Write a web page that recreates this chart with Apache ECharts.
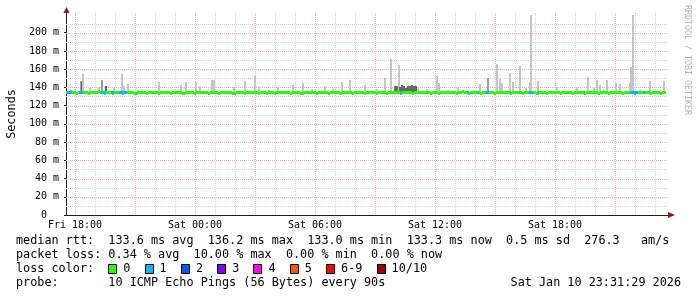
<!DOCTYPE html>
<html><head><meta charset="utf-8">
<script src="https://cdn.jsdelivr.net/npm/echarts@6/dist/echarts.min.js"></script>
<style>html,body{margin:0;padding:0;background:#fff}#c{width:697px;height:297px}</style>
</head><body><div id="c"></div>
<script>
// ---------------- data ----------------
const xMinHour = -0.45, xMaxHour = 29.65, yMaxMs = 221.6;
const xLabelHours = [0, 6, 12, 18, 24];
const xLabelNames = ['Fri 18:00', 'Sat 00:00', 'Sat 06:00', 'Sat 12:00', 'Sat 18:00'];
const majorGridHours = [0, 3, 6, 9, 12, 15, 18, 21, 24, 27];
const minorGridHours = [1, 2, 4, 5, 7, 8, 10, 11, 13, 14, 16, 17, 19, 20, 22, 23, 25, 26, 28, 29];
const yLabelMs = [0, 20, 40, 60, 80, 100, 120, 140, 160, 180, 200];
const majorGridMs = [20, 40, 60, 80, 100, 120, 140, 160, 180, 200];
const minorGridMs = [10, 30, 50, 70, 90, 110, 130, 150, 170, 190, 210];

// median rtt (ms), one sample every 6 minutes starting at the left edge
const medianStartHour = -0.45, medianStepHour = 0.1;
const medianMs = [
 134,134,135,134,134,133.2,134,134,134,134,
 134,133.2,134,134,134,134,135,134,134,133.2,
 134,134,134,133.2,134,134,134,134,133.2,134,
 134,134,134,134,133.2,133.2,134,134,134,134,
 133.2,134,134,134,134,134,133.2,134,134,134,
 134,134,133.2,134,134,134,134,134,133.2,133.2,
 134,134,134,134,133.2,134,134,134,134,134,
 134,133.2,134,134,134,134,133.2,134,134,134,
 134,134,134,133.2,133.2,134,134,134,134,133.2,
 134,134,134,134,134,134,133.2,134,134,134,
 133.2,134,134,134,133.2,134,134,134,134,134,
 134,134,133.2,134,134,134,134,133.2,133.2,134,
 134,134,134,134,134,133.2,134,134,134,134,
 134,133.2,134,134,134,134,134,133.2,134,134,
 134,134,134,133.2,134,134,134,134,134,133.2,
 134,134,134,134,134,133.2,134,134,134,134,
 133.2,134,134,134,134,134,134,133.2,134,134,
 134,134,134,133.2,134,134,134,134,134,134,
 134,134,133.2,134,134,134,133.2,134,134,134,
 134,134,134,134,134,133.2,134,134,135,134,
 134,133.2,134,134,134,134,134,133.2,134,134,
 134,134,134,134,133.2,134,134,134,134,134,
 134,134,133.2,134,134,134,134,134,133.2,134,
 134,134,134,134,134,133.2,134,134,134,134,
 133.2,134,134,134,134,134,134,133.2,134,134,
 134,134,134,133.2,134,134,134,134,134,133.2,
 134,134,134,134,134,134,133.2,134,134,134,
 134,133.2,134,134,134,134,134,134,133.2,134,
 134,134,134,134,133.2,134,134,134,134,134,
 134,134,133.2,134,134,134,134,133.2,134,134
];
// periods with packet loss: [startHour, endHour, lossLevelIndex]
const lossPeriods = [
 [-0.40,-0.15,1],[0.20,0.40,1],[1.30,1.55,1],[1.80,1.95,1],[2.20,2.60,1],
 [16.25,16.35,1],[19.60,19.70,1],[20.15,20.20,1],[20.55,20.70,1],[21.75,21.80,1],
 [22.20,22.25,1],[22.70,22.90,1],[23.15,23.20,1],[25.45,25.50,1],[27.75,28.15,1],[28.40,28.50,1]
];
// smoke (ping spread): [hour, topMs, shade]  shade 0 light, 1 medium, 2 dark
const smokeBaseMs = 134;
const smokeSpikes = [
 [0.28,147,1],[0.33,146,2],[0.40,155,0],[0.75,139,0],[1.18,140,0],[1.37,148,1],[1.53,141,2],
 [1.93,139,0],[2.33,155,0],[2.43,141,0],[2.65,144,0],[3.15,137,0],[4.20,146,0],[5.30,143,0],
 [5.55,146,0],[6.05,146,0],[6.25,141.5,0],[6.85,148,0],[6.95,148,0],[7.93,140,0],[8.50,147,0],
 [9.00,152,0],[9.18,140,0],[9.70,137,0],[10.13,140,0],[10.92,143,0],[11.42,145,0],[11.83,138,0],
 [12.50,141.5,0],[12.88,138,0],[13.35,146,0],[13.75,148,0],[14.50,143,0],[15.08,138,0],
 [15.48,150,0],[15.78,171,0],[16.20,165,0],
 [16.00,141,2],[16.10,142,2],[16.25,140,2],[16.35,143,2],[16.45,141,2],[16.55,139,2],
 [16.65,142,2],[16.75,141,2],[16.85,143,2],[16.95,142,2],[17.05,141,2],
 [17.15,140,0],[17.58,138,0],[18.12,152,0],[18.22,144.5,0],[18.67,137,0],[19.13,140,0],
 [20.25,144,0],[20.65,150,1],[21.12,166,0],[21.25,149,0],[21.37,144.5,0],[21.73,156,0],
 [21.92,146,0],[22.27,163.5,0],[22.57,139,0],[22.75,146,0],[22.82,219.5,0],[23.17,147,0],
 [24.12,140,0],[25.12,140,0],[25.65,151,0],[25.95,139,0],[26.12,148,0],[26.23,143,0],
 [26.45,137,0],[26.62,148,0],[27.03,144.5,0],[27.27,144,0],[27.73,144.5,0],[27.78,162,0],
 [27.90,219.5,0],[28.32,137,0],[28.73,147,0],[29.45,147,0]
];
const lossNames = ['0', '1', '2', '3', '4', '5', '6-9', '10/10'];
const lossColors = ['#26ff00', '#00b8ff', '#0059ff', '#7e00ff', '#ff00ff', '#ff5500', '#ff0000', '#a00000'];
const rttStats = ['133.6 ms avg', '136.2 ms max', '133.0 ms min', '133.3 ms now', '0.5 ms sd', '276.3   am/s'];
const lossStats = ['0.34 % avg', '10.00 % max', '0.00 % min', '0.00 % now'];
const probeText = '10 ICMP Echo Pings (56 Bytes) every 90s';
const dateText = 'Sat Jan 10 23:31:29 2026';
const yTitle = 'Seconds';
const watermark = 'RRDTOOL / TOBI OETIKER';

// ---------------- chart ----------------
const FONT = '"DejaVu Sans Mono", monospace';
const smokeShades = ['#c4c4c4', '#9c9c9c', '#6a6a6a'];
const GRID_MINOR = '#d2d2d2';
const GRID_MAJOR = '#ecb2b2';
const chart = echarts.init(document.getElementById('c'));

function vGrid(hours, color) {
  return {
    type: 'custom', silent: true, clip: false, z: 1,
    data: hours.map(h => [h, 0]),
    renderItem: (p, api) => {
      const cs = p.coordSys;
      const x = Math.round(api.coord([api.value(0), 0])[0]) + 0.5;
      return { type: 'line', shape: { x1: x, y1: cs.y, x2: x, y2: cs.y + cs.height },
               style: { stroke: color, lineWidth: 1, lineDash: [1, 1] } };
    }
  };
}
function hGrid(vals, color) {
  return {
    type: 'custom', silent: true, clip: false, z: 1,
    data: vals.map(v => [xMinHour, v]),
    renderItem: (p, api) => {
      const cs = p.coordSys;
      const y = Math.round(api.coord([xMinHour, api.value(1)])[1]) + 0.5;
      return { type: 'line', shape: { x1: cs.x, y1: y, x2: cs.x + cs.width, y2: y },
               style: { stroke: color, lineWidth: 1, lineDash: [1, 1] } };
    }
  };
}
function medianAt(h) {
  let i = Math.floor((h - medianStartHour) / medianStepHour);
  i = Math.max(0, Math.min(medianMs.length - 1, i));
  return medianMs[i];
}
const medianData = medianMs.map((v, i) => [medianStartHour + i * medianStepHour, v]);

const graphic = [];
graphic.push({ type: 'polygon', shape: { points: [[63.5, 13], [69.5, 13], [66.5, 7]] }, style: { fill: '#801f1f' }, z: 100 });
graphic.push({ type: 'polygon', shape: { points: [[668, 212], [668, 218], [675, 215]] }, style: { fill: '#801f1f' }, z: 100 });
const CW = 7.1, LX = 16, FS = '11.8px ' + FONT;
function txt(s, x, y, align) {
  graphic.push({ type: 'text', x: x, y: y, style: { text: s, font: FS, fill: '#000', align: align || 'left', verticalAlign: 'middle' } });
}
txt('median rtt:  ' + rttStats.join('  '), LX, 241);
txt('packet loss: ' + lossStats.join('  '), LX, 255);
txt('loss color:', LX, 269);
let bx = LX + 13 * CW;
lossNames.forEach((n, i) => {
  graphic.push({ type: 'rect', shape: { x: Math.round(bx) + 0.5, y: 264.5, width: 8, height: 9 },
                 style: { fill: lossColors[i], stroke: '#000', lineWidth: 1 } });
  txt(n, bx + 15, 269);
  bx = bx + 15 + n.length * CW + 2 * CW;
});
txt('probe:       ' + probeText, LX, 283);
txt(dateText, 681, 283, 'right');
graphic.push({ type: 'text', x: 687.5, y: 60, rotation: -Math.PI / 2,
               style: { text: watermark, font: '8.3px ' + FONT, fill: '#b4b4b4', align: 'center', verticalAlign: 'middle' } });

chart.setOption({
  animation: false,
  backgroundColor: '#ffffff',
  grid: { left: 66, top: 13, width: 602, height: 202, containLabel: false, outerBoundsMode: 'none' },
  xAxis: {
    type: 'value', min: xMinHour, max: xMaxHour,
    splitLine: { show: false }, axisTick: { show: false },
    axisLine: { show: true, onZero: false, lineStyle: { color: '#1f1f1f', width: 1 } },
    axisLabel: { customValues: xLabelHours, fontFamily: FONT, fontSize: 10, color: '#000', margin: 5,
      formatter: v => { const i = xLabelHours.indexOf(v); return i >= 0 ? xLabelNames[i] : ''; } }
  },
  yAxis: {
    type: 'value', min: 0, max: yMaxMs, interval: 20,
    name: yTitle, nameLocation: 'middle', nameRotate: 90, nameGap: 48,
    nameTextStyle: { fontFamily: FONT, fontSize: 11.8, color: '#000' },
    splitLine: { show: false },
    axisLine: { show: true, onZero: false, lineStyle: { color: '#1f1f1f', width: 1 } },
    axisTick: { show: true, length: 2, customValues: yLabelMs, lineStyle: { color: '#1f1f1f' } },
    axisLabel: { customValues: yLabelMs, fontFamily: FONT, fontSize: 10, color: '#000', margin: 7,
      formatter: v => v === 0 ? '0  ' : v + ' m' }
  },
  graphic: graphic,
  series: [
    vGrid(minorGridHours, GRID_MINOR),
    hGrid(minorGridMs, GRID_MINOR),
    vGrid(majorGridHours, GRID_MAJOR),
    hGrid(majorGridMs, GRID_MAJOR),
    {
      type: 'custom', silent: true, z: 3, data: smokeSpikes,
      renderItem: (p, api) => {
        const top = api.coord([api.value(0), api.value(1)]);
        const base = api.coord([api.value(0), smokeBaseMs]);
        const x = Math.round(top[0]) - 1;
        return { type: 'rect', shape: { x: x, y: Math.round(top[1]), width: 2, height: Math.round(base[1]) - Math.round(top[1]) },
                 style: { fill: smokeShades[api.value(2)] } };
      }
    },
    {
      type: 'custom', silent: true, z: 4, data: medianData,
      renderItem: (p, api) => {
        const h = api.value(0), v = api.value(1);
        const a = api.coord([h, v]), b = api.coord([h + medianStepHour, v]);
        const x0 = Math.round(a[0]), x1 = Math.round(b[0]);
        return { type: 'rect', shape: { x: x0, y: Math.round(a[1] - 1.5), width: x1 - x0, height: 3 },
                 style: { fill: lossColors[0] } };
      }
    },
    {
      type: 'custom', silent: true, z: 5, data: lossPeriods,
      renderItem: (p, api) => {
        const s = api.value(0), e = api.value(1), lv = api.value(2);
        const v = medianAt(s);
        const a = api.coord([s, v]), b = api.coord([e, v]);
        const x0 = Math.round(a[0]), x1 = Math.max(Math.round(b[0]), x0 + 1);
        return { type: 'rect', shape: { x: x0, y: Math.round(a[1] - 1.5), width: x1 - x0, height: 3 },
                 style: { fill: lossColors[lv] } };
      }
    }
  ]
});
</script></body></html>
